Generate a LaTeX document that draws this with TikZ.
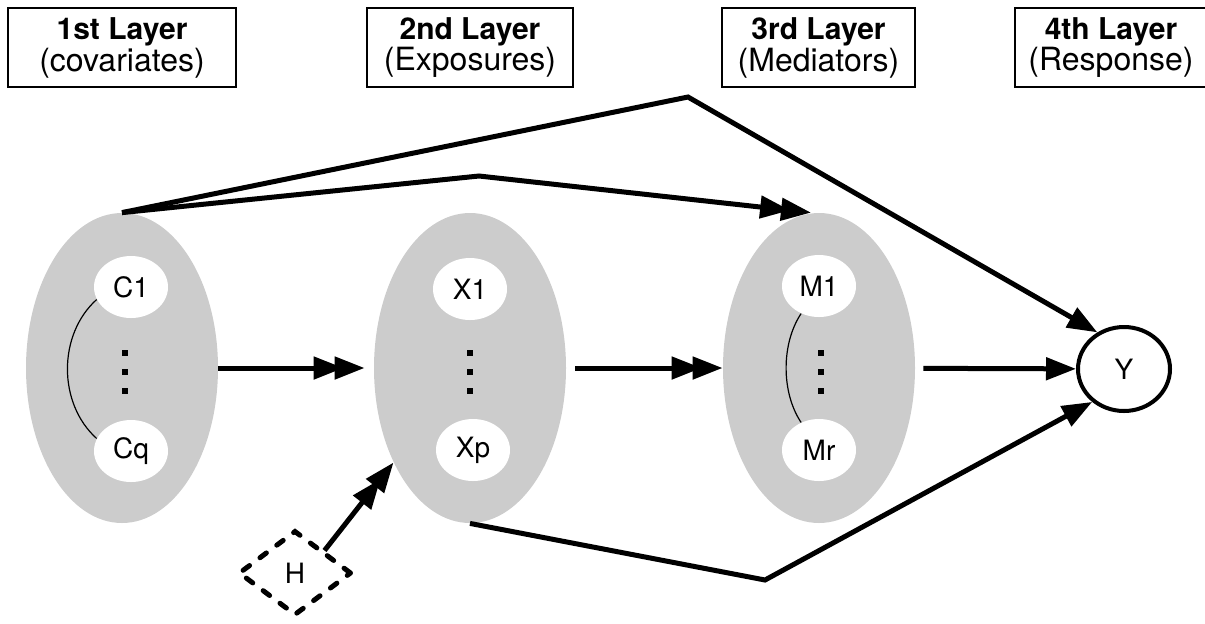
\documentclass[tikz,border=0pt]{standalone}
\usepackage{fontspec}
\setmainfont{TeX Gyre Heros}
\usetikzlibrary{shapes.geometric,arrows.meta}

\newcommand{\layer}[2]{{\fontsize{15}{15}\selectfont\textbf{#1}}\\[0pt]{\fontsize{16}{14.5}\selectfont(#2)}}

\tikzset{
	layerbox/.style={draw, line width=0.8pt, minimum height=39.5pt, inner sep=0pt, align=center},
	group/.style={ellipse, fill=black!20, minimum width=96pt, minimum height=155pt, inner sep=0pt},
	var/.style={ellipse, fill=white, minimum width=37pt, minimum height=31pt, inner sep=0pt, font=\fontsize{14}{16}\selectfont},
	link/.style={line width=2.5pt},
	onehead/.style={-{Triangle[length=15pt,width=11pt]}},
	twohead/.style={-{Triangle[length=15pt,width=11pt,sep=-4.5pt]Triangle[length=15pt,width=11pt]}},
	corr/.style={line width=0.6pt}
}

\begin{document}
\begin{tikzpicture}[x=0.5pt, y=-0.5pt]
		\useasboundingbox (0,0) rectangle (1205,623);
		\node[layerbox, minimum width=114pt] (L1) at (122,47.5) {\layer{1st Layer}{covariates}};
		\node[layerbox, minimum width=103pt] (L2) at (470,47.5) {\layer{2nd Layer}{Exposures}};
		\node[layerbox, minimum width=96.5pt] (L3) at (818.5,47.5) {\layer{3rd Layer}{Mediators}};
		\node[layerbox, minimum width=96pt] (L4) at (1111,47.5) {\layer{4th Layer}{Response}};
		\node[group] (C) at (122,368) {};
		\node[group] (X) at (470,368) {};
		\node[group] (M) at (819,368) {};
		\node[var] (C1) at (131,287) {C1};
		\node[var] (Cq) at (131,451) {Cq};
		\node[var] (X1) at (470,289) {X1};
		\node[var] (Xp) at (473,450) {Xp};
		\node[var] (M1) at (819,286) {M1};
		\node[var] (Mr) at (819,450) {Mr};
		\foreach \x in {125, 470, 821}
			\foreach \y in {353, 372, 391}
				\fill (\x-3,\y-3) rectangle +(6,6);
		\node[ellipse, draw, line width=2pt, minimum width=46pt, minimum height=42pt, inner sep=0pt, font=\fontsize{14}{16}\selectfont] (Y) at (1124,369) {Y};
		\node[diamond, draw, line width=2.5pt, dash pattern=on 4pt off 6.5pt, line cap=round, minimum width=56.5pt, minimum height=42.5pt, inner sep=0pt, font=\fontsize{14}{16}\selectfont] (H) at (295,573) {H};
		\coordinate (top) at (688,97);
		\coordinate (over) at (479,176);
		\coordinate (bottom) at (765,580);
		\draw[corr] (C1.200) .. controls +(-39,35) and +(-39,-35) .. (Cq.160);
		\draw[corr] (M1.237) .. controls +(-20,30) and +(-20,-30) .. (Mr.123);
		\draw[link, twohead, shorten >=4.5pt] (C) -- (X);
		\draw[link, twohead, shorten <=4.5pt] (X) -- (M);
		\draw[link, onehead, shorten <=4pt] (M) -- (Y);
		\draw[link, twohead] (C.north) -- (over) -- ([xshift=-4pt]M.north);
		\draw[link, onehead] (C.north) -- (top) -- (Y.126);
		\draw[link, onehead] (X.south) -- (bottom) -- (Y.226);
		\draw[link, twohead] (H.north east) -- (X.231);
	\end{tikzpicture}
\end{document}
